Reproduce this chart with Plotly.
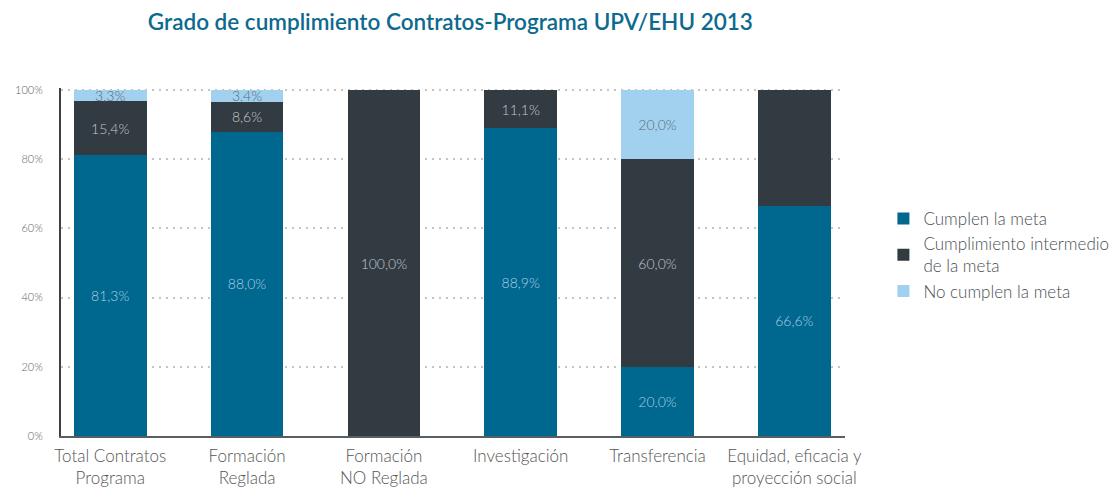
import plotly.graph_objects as go

categories = ["Total Contratos<br>Programa", "Formación<br>Reglada", "Formación<br>NO Reglada",
              "Investigación", "Transferencia", "Equidad, eficacia y<br>proyección social"]
cumplen = [81.3, 88.0, 0.0, 88.9, 20.0, 66.6]
intermedio = [15.4, 8.6, 100.0, 11.1, 60.0, 33.4]
no_cumplen = [3.3, 3.4, 0.0, 0.0, 20.0, 0.0]

cumplen_labels = ["81,3%", "88,0%", "", "88,9%", "20,0%", "66,6%"]
intermedio_labels = ["15,4%", "8,6%", "100,0%", "11,1%", "60,0%", ""]
no_cumplen_labels = ["3,3%", "3,4%", "", "", "20,0%", ""]

y_tickvals = [0, 20, 40, 60, 80, 100]
y_ticktext = ["0%", "20%", "40%", "60%", "80%", "100%"]

series_names = ["Cumplen la meta", "Cumplimiento intermedio<br>de la meta", "No cumplen la meta"]
colors = ["#00678f", "#323b42", "#a2d1ef"]
text_colors = ["#a9cde3", "#c3c8cc", "#5d6b76"]

x_idx = list(range(len(categories)))

fig = go.Figure()
for vals, labels, name, col, tcol in zip(
        [cumplen, intermedio, no_cumplen],
        [cumplen_labels, intermedio_labels, no_cumplen_labels],
        series_names, colors, text_colors):
    fig.add_trace(go.Bar(
        x=x_idx, y=vals, name=name, width=0.53,
        marker=dict(color=col, line=dict(width=0)),
        text=labels, textposition="inside", insidetextanchor="middle",
        textfont=dict(color=tcol, size=14, family="Lato", weight=300),
        constraintext="none", cliponaxis=False,
    ))

fig.update_layout(
    barmode="stack",
    width=1117, height=487,
    margin=dict(l=53, r=280, t=80, b=59, autoexpand=False),
    plot_bgcolor="white", paper_bgcolor="white",
    font=dict(family="Lato", color="#555"),
    uniformtext=dict(minsize=12, mode="show"),
    title=dict(text="Grado de cumplimiento Contratos-Programa UPV/EHU 2013",
               x=0.396, xanchor="center", y=0.971, yanchor="middle",
               font=dict(family="Lato", size=22.5, color="#0d6a8e", weight=600)),
    legend=dict(x=1.049, xanchor="left", y=0.52, yanchor="middle",
                font=dict(size=17, color="#4a4f54", family="Lato", weight=300),
                traceorder="normal", itemwidth=30),
    showlegend=True,
)
fig.update_xaxes(
    tickmode="array", tickvals=x_idx, ticktext=categories,
    range=[-0.36, 5.37], automargin=False,
    showline=True, linecolor="#5a5f64", linewidth=1.5,
    showgrid=False, ticks="", ticklabelstandoff=4,
    tickfont=dict(size=17, color="#555", family="Lato", weight=300),
)
fig.update_yaxes(
    range=[0, 100.6], tickmode="array", tickvals=y_tickvals, ticktext=y_ticktext,
    automargin=False,
    showline=True, linecolor="#3a4248", linewidth=2,
    showgrid=True, gridcolor="#c4c4c4", gridwidth=2, griddash="2px,5px",
    zeroline=False, ticks="", ticklabelstandoff=14,
    tickfont=dict(size=11, color="#666", family="Lato", weight=300),
)

fig.write_html("out.html")
